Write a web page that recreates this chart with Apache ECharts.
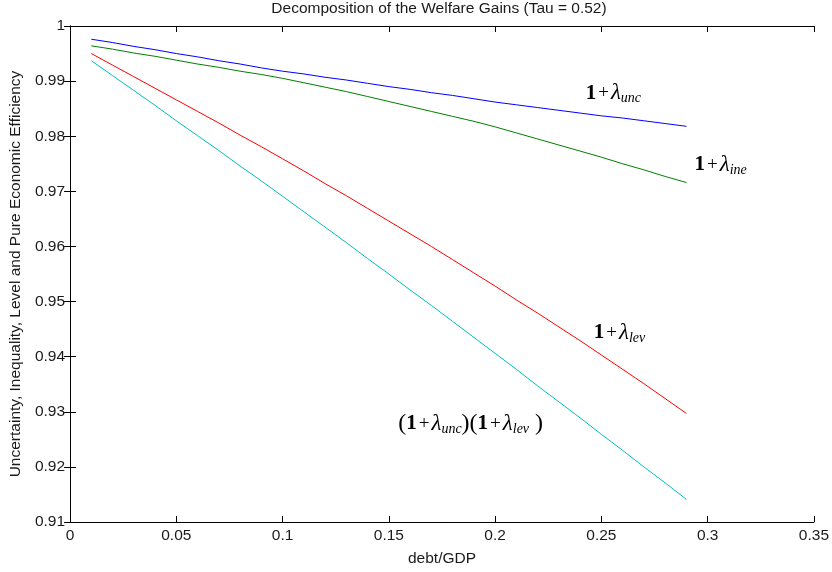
<!DOCTYPE html>
<html>
<head>
<meta charset="utf-8">
<script src="https://cdn.jsdelivr.net/npm/echarts@6/dist/echarts.min.js"></script>
<style>
  html, body { margin: 0; padding: 0; background: #fff; }
  #chart { width: 832px; height: 572px; }
</style>
</head>
<body>
<div id="chart"></div>
<script>
// debt/GDP grid
var debt = [0.01, 0.02, 0.03, 0.04, 0.05, 0.06, 0.07, 0.08, 0.09, 0.10,
  0.11, 0.12, 0.13, 0.14, 0.15, 0.16, 0.17, 0.18, 0.19, 0.20,
  0.21, 0.22, 0.23, 0.24, 0.25, 0.26, 0.27, 0.28, 0.29];

var unc = [0.9976, 0.9970, 0.9963, 0.9957, 0.9950, 0.9944, 0.9937, 0.9931, 0.9924, 0.9918,
  0.9913, 0.9907, 0.9902, 0.9896, 0.9890, 0.9885, 0.9879, 0.9874, 0.9868, 0.9862,
  0.9857, 0.9852, 0.9847, 0.9842, 0.9837, 0.9833, 0.9828, 0.9823, 0.9818];

var ine = [0.9964, 0.9958, 0.9951, 0.9945, 0.9938, 0.9931, 0.9925, 0.9918, 0.9912, 0.9905,
  0.9897, 0.9889, 0.9881, 0.9872, 0.9863, 0.9854, 0.9845, 0.9836, 0.9827, 0.9817,
  0.9806, 0.9795, 0.9784, 0.9773, 0.9762, 0.9750, 0.9739, 0.9727, 0.9716];

var lev = [0.9950, 0.9929, 0.9908, 0.9887, 0.9866, 0.9845, 0.9824, 0.9802, 0.9781, 0.9759,
  0.9737, 0.9714, 0.9692, 0.9669, 0.9646, 0.9623, 0.9600, 0.9576, 0.9552, 0.9528,
  0.9503, 0.9479, 0.9454, 0.9429, 0.9403, 0.9377, 0.9351, 0.9324, 0.9297];

var uncLev = [0.9937, 0.9910, 0.9883, 0.9856, 0.9828, 0.9801, 0.9774, 0.9746, 0.9719, 0.9691,
  0.9663, 0.9635, 0.9607, 0.9578, 0.9550, 0.9521, 0.9493, 0.9464, 0.9435, 0.9406,
  0.9377, 0.9347, 0.9318, 0.9289, 0.9259, 0.9230, 0.9200, 0.9171, 0.9141];

// label anchors (data coords, left/middle of the text)
var labelX = [0.2426, 0.2938, 0.2464, 0.1544];
var labelY = [0.9878, 0.9748, 0.9443, 0.9278];

function pairs(ys) {
  return debt.map(function (x, i) { return [x, ys[i]]; });
}

function fmt(v) {
  return String(+v.toFixed(2));
}

var axisLine = { lineStyle: { color: '#000', width: 1 } };
var axisTick = { inside: true, length: 6, lineStyle: { color: '#000' } };
var labelStyle = { color: '#1a1a1a', fontFamily: 'Liberation Sans', fontSize: 15.5 };

function line(name, data, color) {
  return {
    name: name,
    type: 'line',
    data: pairs(data),
    showSymbol: false,
    symbol: 'none',
    lineStyle: { color: color, width: 1 },
    itemStyle: { color: color },
    animation: false
  };
}

var option = {
  backgroundColor: '#fff',
  animation: false,
  title: {
    text: 'Decomposition of the Welfare Gains (Tau = 0.52)',
    left: 439,
    textAlign: 'center',
    top: 1,
    padding: 0,
    textStyle: { fontWeight: 'normal', fontSize: 15.5, color: '#1a1a1a', fontFamily: 'Liberation Sans' }
  },
  grid: { left: 68, right: 18, top: 26, bottom: 50 },
  xAxis: [
    {
      type: 'value', min: 0, max: 0.35, interval: 0.05,
      name: 'debt/GDP', nameLocation: 'middle', nameGap: 29,
      nameTextStyle: labelStyle,
      axisLine: axisLine, axisTick: axisTick,
      axisLabel: Object.assign({ formatter: fmt, margin: 6 }, labelStyle),
      splitLine: { show: false }
    },
    {
      type: 'value', min: 0, max: 0.35, interval: 0.05, position: 'top',
      axisLine: axisLine, axisTick: axisTick,
      axisLabel: { show: false }, splitLine: { show: false }
    }
  ],
  yAxis: [
    {
      type: 'value', min: 0.91, max: 1, interval: 0.01,
      name: 'Uncertainty, Inequality, Level and Pure Economic Efficiency',
      nameLocation: 'middle', nameGap: 42,
      nameTextStyle: labelStyle,
      axisLine: axisLine, axisTick: axisTick,
      axisLabel: Object.assign({ formatter: fmt, margin: 5 }, labelStyle),
      splitLine: { show: false }
    },
    {
      type: 'value', min: 0.91, max: 1, interval: 0.01, position: 'right',
      axisLine: axisLine, axisTick: axisTick,
      axisLabel: { show: false }, splitLine: { show: false }
    }
  ],
  series: [
    line('unc', unc, '#0000ff'),
    line('ine', ine, '#008000'),
    line('lev', lev, '#ff0000'),
    line('unc*lev', uncLev, '#00bfbf')
  ]
};

var chart = echarts.init(document.getElementById('chart'), null, { renderer: 'canvas' });
chart.setOption(option);

var rich = {
  n: { fontFamily: 'Liberation Serif', fontSize: 21, fontWeight: 'bold', color: '#111' },
  p: { fontFamily: 'Liberation Serif', fontSize: 19, color: '#111', padding: [0, 2, 0, 2] },
  l: { fontFamily: 'Liberation Serif', fontSize: 23, fontStyle: 'italic', color: '#111' },
  s: { fontFamily: 'Liberation Serif', fontSize: 14, fontStyle: 'italic', color: '#111', padding: [10, 0, 0, 0] },
  b: { fontFamily: 'Liberation Serif', fontSize: 24, color: '#333' }
};

var labelTexts = [
  '{n|1}{p|+}{l|λ}{s|unc}',
  '{n|1}{p|+}{l|λ}{s|ine}',
  '{n|1}{p|+}{l|λ}{s|lev}',
  '{b|(}{n|1}{p|+}{l|λ}{s|unc}{b|)(}{n|1}{p|+}{l|λ}{s|lev}{b| )}'
];

chart.setOption({
  graphic: labelTexts.map(function (t, i) {
    var pt = chart.convertToPixel({ gridIndex: 0 }, [labelX[i], labelY[i]]);
    return {
      type: 'text',
      x: pt[0],
      y: pt[1],
      style: { text: t, rich: rich, verticalAlign: 'middle', align: 'left' }
    };
  })
});
</script>
</body>
</html>
